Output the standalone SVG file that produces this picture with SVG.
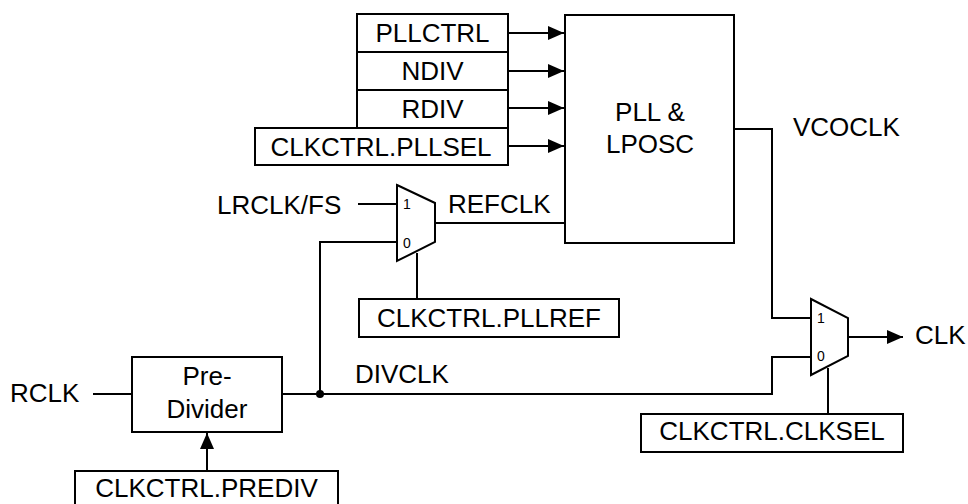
<svg xmlns="http://www.w3.org/2000/svg" width="968" height="504" viewBox="0 0 968 504">
<defs>
<marker id="arr" markerWidth="16" markerHeight="14" refX="16" refY="7" orient="auto" markerUnits="userSpaceOnUse">
<path d="M0,0 L16,7 L0,14 Z" fill="#000"/>
</marker>
<style>
.box{fill:#fff;stroke:#000;stroke-width:2}
.w{fill:none;stroke:#000;stroke-width:2}
.t{font-family:"Liberation Sans",Arial,sans-serif;font-size:26px;fill:#000}
.c{text-anchor:middle}
.s{font-family:"Liberation Sans",Arial,sans-serif;font-size:14px;fill:#000}
</style>
</defs>
<rect width="968" height="504" fill="#fff"/>
<g id="connectors">
<path class="w" d="M508,33 H564" marker-end="url(#arr)"/>
<path class="w" d="M508,71 H564" marker-end="url(#arr)"/>
<path class="w" d="M508,108 H564" marker-end="url(#arr)"/>
<path class="w" d="M508,146 H564" marker-end="url(#arr)"/>
<path class="w" d="M358,204 H397"/>
<path class="w" d="M435,223 H565"/>
<path class="w" d="M397,242 H320 V394"/>
<path class="w" d="M417,253 V299"/>
<path class="w" d="M93,394 H132"/>
<path class="w" d="M282,394 H772 V357 H811"/>
<path class="w" d="M207,471 V433" marker-end="url(#arr)"/>
<path class="w" d="M734,129 H772 V318 H811"/>
<path class="w" d="M828,368 V414"/>
<path class="w" d="M848,337 H903" marker-end="url(#arr)"/>
<circle cx="320" cy="394" r="4" fill="#000"/>
</g>
<g id="pllctrl"><rect class="box" x="357" y="14" width="151" height="38"/><text class="t c" x="432.5" y="42">PLLCTRL</text></g>
<g id="ndiv"><rect class="box" x="357" y="52" width="151" height="38"/><text class="t c" x="432.5" y="80">NDIV</text></g>
<g id="rdiv"><rect class="box" x="357" y="90" width="151" height="38"/><text class="t c" x="432.5" y="118">RDIV</text></g>
<g id="pllsel"><rect class="box" x="255" y="128" width="253" height="37"/><text class="t c" x="381" y="156">CLKCTRL.PLLSEL</text></g>
<g id="pll"><rect class="box" x="565" y="15" width="169" height="228"/><text class="t c" x="650" y="121">PLL &amp;</text><text class="t c" x="650" y="153">LPOSC</text></g>
<g id="vcoclk"><text class="t" x="793" y="136">VCOCLK</text></g>
<g id="lrclk"><text class="t" x="217" y="214">LRCLK/FS</text></g>
<g id="refclk"><text class="t" x="448" y="213">REFCLK</text></g>
<g id="mux1"><path class="box" d="M397,185 L435,203 L435,242 L397,261 Z"/><text class="s" x="403" y="209">1</text><text class="s" x="403" y="248">0</text></g>
<g id="pllref"><rect class="box" x="359" y="299" width="260" height="38"/><text class="t c" x="489" y="327">CLKCTRL.PLLREF</text></g>
<g id="rclk"><text class="t" x="10" y="402">RCLK</text></g>
<g id="prediv"><rect class="box" x="132" y="357" width="150" height="75"/><text class="t c" x="207" y="385">Pre-</text><text class="t c" x="207" y="418">Divider</text></g>
<g id="divclk"><text class="t" x="355" y="383">DIVCLK</text></g>
<g id="predivreg"><rect class="box" x="75" y="471" width="263" height="40"/><text class="t c" x="206.5" y="497">CLKCTRL.PREDIV</text></g>
<g id="mux2"><path class="box" d="M811,299 L848,318 L848,356 L811,375 Z"/><text class="s" x="817" y="323">1</text><text class="s" x="817" y="361">0</text></g>
<g id="clk"><text class="t" x="915" y="344">CLK</text></g>
<g id="clksel"><rect class="box" x="641" y="414" width="262" height="38"/><text class="t c" x="772" y="440">CLKCTRL.CLKSEL</text></g>
</svg>
